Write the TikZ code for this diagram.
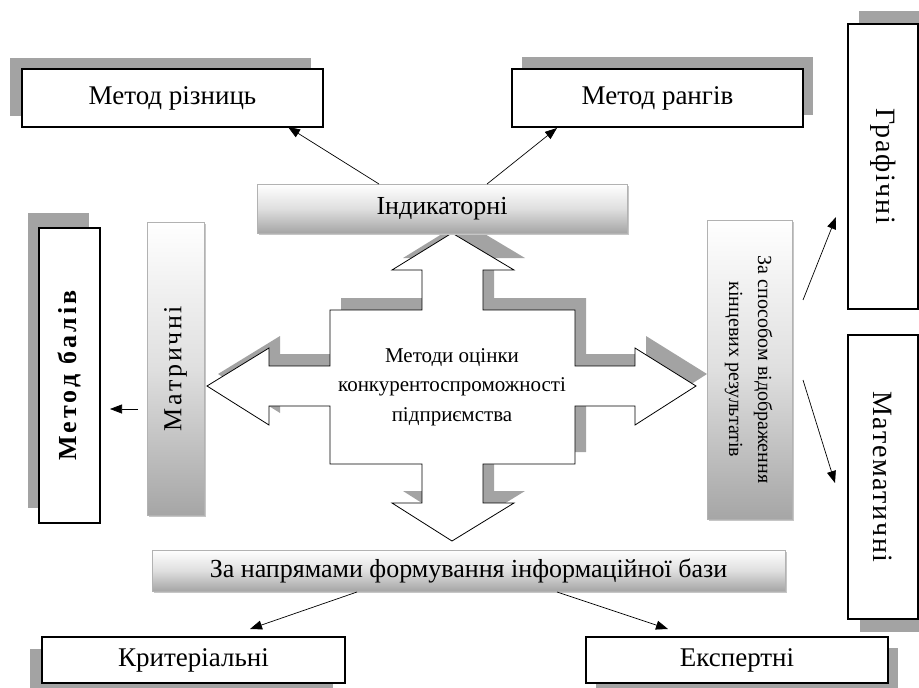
\documentclass[tikz,border=0pt]{standalone}
\usepackage{fontspec}
\setmainfont{Liberation Serif}
\newfontfamily\spacedA[LetterSpace=6]{Liberation Serif}
\newfontfamily\spacedB[LetterSpace=10]{Liberation Serif}
\newfontfamily\spacedC[LetterSpace=12]{Liberation Serif}
\usetikzlibrary{shadows,arrows.meta}
\begin{document}
\begin{tikzpicture}[x=1pt,y=-1pt,
  shcol/.style={fill=black!36,draw=none},
  sh/.style 2 args={general shadow={shcol,shadow xshift=#1,shadow yshift=#2}},
  wbox/.style={draw=black,line width=1.1pt,fill=white,inner sep=0pt,font=\fontsize{27}{32}\selectfont},
  gbox/.style={draw=gray!60,line width=0.6pt,top color=white,bottom color=gray!70,middle color=gray!25,inner sep=0pt,
     general shadow={fill=gray!45,shadow xshift=1.5pt,shadow yshift=-1.5pt},font=\fontsize{26}{31}\selectfont},
  conn/.style={line width=0.7pt,-{Triangle[length=12pt,width=9pt]}}]
\useasboundingbox (0,0) rectangle (919,688);
\begin{scope}
\clip (0,0) rectangle (919,688);
% white boxes
\node[wbox,sh={-12pt}{11pt},minimum width=301pt,minimum height=58pt] (mr) at (172.5,98) {Метод різниць};
\node[wbox,sh={10pt}{12pt},minimum width=291pt,minimum height=58pt] (mrang) at (657.5,98) {Метод рангів};
\node[wbox,sh={11pt}{13pt},minimum width=70pt,minimum height=285pt] (graf) at (883,166.5) {\rotatebox{-90}{\fontsize{28}{32}\spacedA Графічні}};
\node[wbox,sh={12pt}{-13pt},minimum width=70pt,minimum height=284pt] (math) at (883,477) {\rotatebox{-90}{\fontsize{28}{32}\spacedA Математичні}};
\node[wbox,sh={-11pt}{15pt},minimum width=61pt,minimum height=295pt] (mbal) at (69.5,375.5) {\rotatebox{90}{\fontsize{26}{31}\spacedC\bfseries Метод балів}};
\node[wbox,sh={-12pt}{-12pt},minimum width=303pt,minimum height=46pt] (krit) at (193.5,660) {Критеріальні};
\node[wbox,sh={10pt}{-11pt},minimum width=302pt,minimum height=46pt] (eksp) at (737,660) {Експертні};
% cross shadow
\fill[shcol,shift={(11,-12)}] (452,233) -- (514,270) -- (483,270) -- (483,310) -- (575,310) -- (575,366) -- (635,366) -- (635,348) -- (696,386) -- (635,425) -- (635,406) -- (575,406) -- (575,464) -- (483,464) -- (483,503) -- (514,503) -- (452,541) -- (392,503) -- (422,503) -- (422,464) -- (330,464) -- (330,406) -- (269,406) -- (269,425) -- (207,386) -- (269,348) -- (269,366) -- (330,366) -- (330,310) -- (422,310) -- (422,270) -- (392,270) -- cycle;
% cross
\draw[fill=white,line width=0.8pt] (452,233) -- (514,270) -- (483,270) -- (483,310) -- (575,310) -- (575,366) -- (635,366) -- (635,348) -- (696,386) -- (635,425) -- (635,406) -- (575,406) -- (575,464) -- (483,464) -- (483,503) -- (514,503) -- (452,541) -- (392,503) -- (422,503) -- (422,464) -- (330,464) -- (330,406) -- (269,406) -- (269,425) -- (207,386) -- (269,348) -- (269,366) -- (330,366) -- (330,310) -- (422,310) -- (422,270) -- (392,270) -- cycle;
\node[align=center,font=\fontsize{21}{29.5}\selectfont,inner sep=0pt] (centre) at (452,387) {Методи оцінки\\конкурентоспроможності\\підприємства};
% gradient boxes
\node[gbox,minimum width=370pt,minimum height=49pt] (ind) at (442,208.5) {Індикаторні};
\node[gbox,minimum width=57pt,minimum height=293pt] (matr) at (175.5,368.5) {\rotatebox{90}{\fontsize{26}{31}\spacedB Матричні}};
\node[gbox,minimum width=85pt,minimum height=299pt] (spos) at (749.5,369.5) {\rotatebox{-90}{\fontsize{20}{29}\selectfont\begin{tabular}{@{}c@{}}За способом відображення\\кінцевих результатів\end{tabular}}};
\node[gbox,minimum width=633pt,minimum height=41pt] (napr) at (468.5,570.5) {За напрямами формування інформаційної бази};
% connector end points
\coordinate (i1) at (379,184); \coordinate (t1) at (288,127);
\coordinate (i2) at (487,184); \coordinate (t2) at (557,128);
\coordinate (m1) at (138,409); \coordinate (t3) at (110,409);
\coordinate (s1) at (803,300); \coordinate (t4) at (836,217);
\coordinate (s2) at (803,380); \coordinate (t5) at (835,483);
\coordinate (n1) at (357,592); \coordinate (t6) at (250,629);
\coordinate (n2) at (557,592); \coordinate (t7) at (668,629);
\draw[conn] (i1) -- (t1);
\draw[conn] (i2) -- (t2);
\draw[conn] (m1) -- (t3);
\draw[conn] (s1) -- (t4);
\draw[conn] (s2) -- (t5);
\draw[conn] (n1) -- (t6);
\draw[conn] (n2) -- (t7);
\end{scope}
\end{tikzpicture}
\end{document}
